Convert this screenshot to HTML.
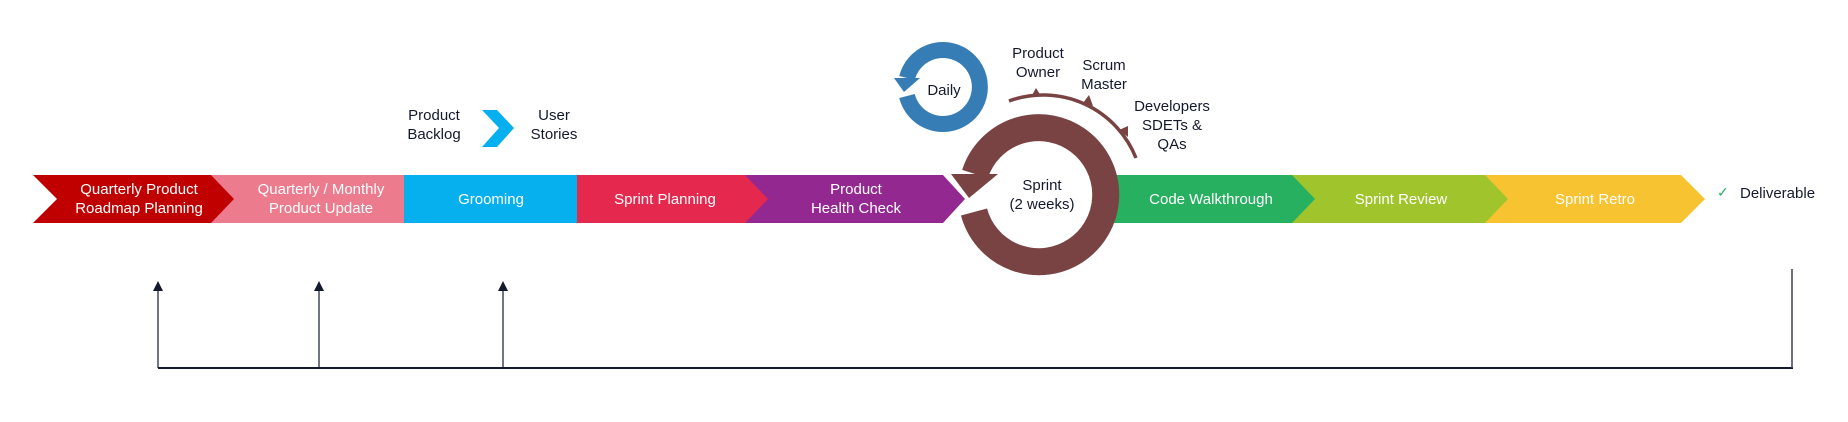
<!DOCTYPE html>
<html><head><meta charset="utf-8"><style>
html,body{margin:0;padding:0;background:#fff;}
svg{display:block;}
text{font-family:"Liberation Sans",sans-serif;font-size:15px;}
.w{fill:#fff;}
.d{fill:#141a2e;}
</style></head><body>
<svg width="1848" height="422" viewBox="0 0 1848 422" xmlns="http://www.w3.org/2000/svg">
<polygon points="1485,175 1681,175 1705,199 1681,223 1485,223" fill="#f8c330"/>
<polygon points="1292,175 1485,175 1508,199 1485,223 1292,223" fill="#a0c42c"/>
<polygon points="1100,175 1292,175 1315,199 1292,223 1100,223" fill="#27b060"/>
<polygon points="745,175 943,175 965,199 943,223 745,223" fill="#922890"/>
<polygon points="577,175 745,175 768,199 745,223 577,223" fill="#e5284d"/>
<rect x="404" y="175" width="173" height="48" fill="#06b0ef"/>
<rect x="211" y="175" width="193" height="48" fill="#ec7b8e"/>
<polygon points="33,175 211,175 234,199 211,223 33,223 57,199" fill="#c00000"/>
<text class="w" x="139" y="194" text-anchor="middle">Quarterly Product</text>
<text class="w" x="139" y="213" text-anchor="middle">Roadmap Planning</text>
<text class="w" x="321" y="194" text-anchor="middle">Quarterly / Monthly</text>
<text class="w" x="321" y="213" text-anchor="middle">Product Update</text>
<text class="w" x="491" y="204" text-anchor="middle">Grooming</text>
<text class="w" x="665" y="204" text-anchor="middle">Sprint Planning</text>
<text class="w" x="856" y="194" text-anchor="middle">Product</text>
<text class="w" x="856" y="213" text-anchor="middle">Health Check</text>
<text class="w" x="1211" y="204" text-anchor="middle">Code Walkthrough</text>
<text class="w" x="1401" y="204" text-anchor="middle">Sprint Review</text>
<text class="w" x="1595" y="204" text-anchor="middle">Sprint Retro</text>
<circle cx="1042" cy="195" r="54" fill="#fff"/>
<path d="M975,174 A67,67 0 1 1 974,212" fill="none" stroke="#7a4343" stroke-width="27"/>
<polygon points="951,174 998,174 969,198" fill="#7a4343"/>
<text class="d" x="1042" y="190" text-anchor="middle">Sprint</text>
<text class="d" x="1042" y="209" text-anchor="middle">(2 weeks)</text>
<path d="M1009,101 A100,100 0 0 1 1136,158" fill="none" stroke="#7a4343" stroke-width="3.5"/>
<polygon points="1031,97 1036,88 1041,96" fill="#7a4343"/>
<polygon points="1083,103 1089,95 1093,106" fill="#7a4343"/>
<polygon points="1119,130 1128,126 1128,137" fill="#7a4343"/>
<path d="M907,78 A37,37 0 1 1 907,96" fill="none" stroke="#367db6" stroke-width="16"/>
<polygon points="894,78 920,78 904,92" fill="#367db6"/>
<text class="d" x="944" y="95" text-anchor="middle">Daily</text>
<text class="d" x="1038" y="58" text-anchor="middle">Product</text>
<text class="d" x="1038" y="77" text-anchor="middle">Owner</text>
<text class="d" x="1104" y="70" text-anchor="middle">Scrum</text>
<text class="d" x="1104" y="89" text-anchor="middle">Master</text>
<text class="d" x="1172" y="111" text-anchor="middle">Developers</text>
<text class="d" x="1172" y="130" text-anchor="middle">SDETs &amp;</text>
<text class="d" x="1172" y="149" text-anchor="middle">QAs</text>
<text class="d" x="434" y="120" text-anchor="middle">Product</text>
<text class="d" x="434" y="139" text-anchor="middle">Backlog</text>
<polygon points="482,110 497,110 514,128 497,147 482,147 499,128" fill="#06b0ef"/>
<text class="d" x="554" y="120" text-anchor="middle">User</text>
<text class="d" x="554" y="139" text-anchor="middle">Stories</text>
<text x="1717" y="197" fill="#27b060" style="font-size:14px">✓</text>
<text class="d" x="1740" y="198">Deliverable</text>
<g stroke="#141a2e" fill="none">
<line x1="158" y1="368" x2="1793" y2="368" stroke-width="2"/>
<line x1="1792" y1="269" x2="1792" y2="368" stroke-width="1.5" stroke="#3a4050"/>
<line x1="158" y1="289" x2="158" y2="368" stroke-width="1.2"/>
<line x1="319" y1="289" x2="319" y2="368" stroke-width="1.2"/>
<line x1="503" y1="289" x2="503" y2="368" stroke-width="1.2"/>
</g>
<g fill="#141a2e">
<polygon points="158,281 153,291 163,291"/>
<polygon points="319,281 314,291 324,291"/>
<polygon points="503,281 498,291 508,291"/>
</g>
</svg>
</body></html>
